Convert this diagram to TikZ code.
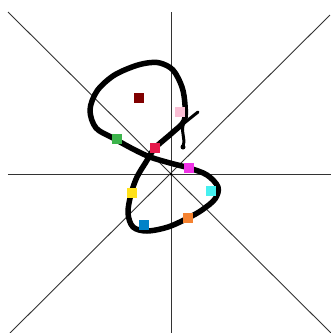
\documentclass[tikz,border=0pt]{standalone}
\usetikzlibrary{calc}
\definecolor{cMaroon}{RGB}{128,0,0}
\definecolor{cPink}{RGB}{250,190,212}
\definecolor{cGreen}{RGB}{60,180,75}
\definecolor{cCrimson}{RGB}{230,25,75}
\definecolor{cMagenta}{RGB}{240,50,230}
\definecolor{cCyan}{RGB}{70,240,240}
\definecolor{cYellow}{RGB}{255,225,25}
\definecolor{cOrange}{RGB}{245,130,48}
\definecolor{cBlue}{RGB}{0,130,200}
\tikzset{
  axisline/.style={draw=black!80, line width=0.9pt},
  stroke/.style={draw=black, line width=5.5pt, line cap=round, line join=round},
  thinstroke/.style={draw=black, line width=3pt, line cap=round, line join=round},
  marker/.style={rectangle, minimum size=10pt, inner sep=0pt, draw=none, fill=#1}
}
\begin{document}
\begin{tikzpicture}[x=1pt,y=-1pt]
\fill[white] (0,0) rectangle (331,333);
\useasboundingbox (0,0) rectangle (331,333);
\coordinate (o) at (171,174);
% axes
\draw[axisline] (171,12) -- (171,333);
\draw[axisline] (8,174) -- (331,174);
\draw[axisline] (8,12) -- (331,333);
\draw[axisline] (330,15) -- (10,333);
% figure curve
\draw[stroke] plot[smooth cycle, tension=0.55] coordinates {
 (155,148) (172,133) (184,121) (185,105) (182,87) (173,70) (160,63) (147,63)
 (132,67) (113,76) (97,91) (90,110) (96,128) (113,138) (133,149) (150,157) (170,163)
 (189,168) (207,175) (218,187) (215,199) (202,210) (188,218) (168,227)
 (147,231) (133,227) (128,213) (131,194) (137,177) (146,162)};
\draw[thinstroke] (183,124) -- (198,112);
\draw[thinstroke] (184,122) .. controls (180,132) and (186,138) .. (183,146);
\fill (183,147) circle (2.5pt);
\fill (o) circle (1.5pt);
% markers
\node[marker=cMaroon] (m1) at (139,98) {};
\node[marker=cPink] (m2) at (180,112) {};
\node[marker=cGreen] (m3) at (117,139) {};
\node[marker=cCrimson] (m4) at (155,148) {};
\node[marker=cMagenta] (m5) at (189,168) {};
\node[marker=cCyan] (m6) at (211,191) {};
\node[marker=cYellow] (m7) at (132,193) {};
\node[marker=cOrange] (m8) at (188,218) {};
\node[marker=cBlue] (m9) at (144,225) {};
\end{tikzpicture}
\end{document}
